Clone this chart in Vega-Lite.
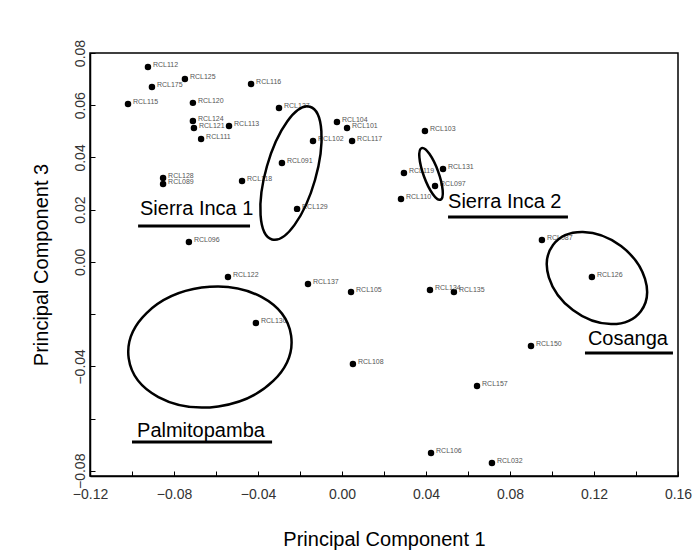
{
  "$schema": "https://vega.github.io/schema/vega-lite/v6.json",
  "width": 588,
  "height": 423,
  "autosize": {"type": "none"},
  "padding": {"left": 90, "top": 53, "right": 15, "bottom": 80},
  "background": "white",
  "config": {
    "font": "Liberation Sans",
    "view": {"stroke": "black", "strokeWidth": 1.5},
    "axis": {
      "grid": false,
      "domainColor": "black",
      "domainWidth": 1.5,
      "tickColor": "black",
      "tickWidth": 1,
      "labelFont": "Liberation Sans",
      "labelFontSize": 14,
      "labelColor": "#333333",
      "titleFont": "Liberation Sans",
      "titleFontSize": 20,
      "titleFontWeight": "normal",
      "titleColor": "black"
    }
  },
  "datasets": {
    "pts": [
      {"id": "RCL112", "pc1": -0.0924, "pc3": 0.0746},
      {"id": "RCL175", "pc1": -0.0905, "pc3": 0.0670},
      {"id": "RCL125", "pc1": -0.0748, "pc3": 0.0700},
      {"id": "RCL115", "pc1": -0.1019, "pc3": 0.0605},
      {"id": "RCL120", "pc1": -0.0710, "pc3": 0.0609},
      {"id": "RCL124", "pc1": -0.0710, "pc3": 0.0540},
      {"id": "RCL121", "pc1": -0.0705, "pc3": 0.0513},
      {"id": "RCL113", "pc1": -0.0538, "pc3": 0.0520},
      {"id": "RCL111", "pc1": -0.0671, "pc3": 0.0471},
      {"id": "RCL116", "pc1": -0.0433, "pc3": 0.0681},
      {"id": "RCL127", "pc1": -0.0300, "pc3": 0.0589},
      {"id": "RCL104", "pc1": -0.0024, "pc3": 0.0536},
      {"id": "RCL101", "pc1": 0.0024, "pc3": 0.0513},
      {"id": "RCL102", "pc1": -0.0138, "pc3": 0.0463},
      {"id": "RCL117", "pc1": 0.0048, "pc3": 0.0463},
      {"id": "RCL091", "pc1": -0.0286, "pc3": 0.0379},
      {"id": "RCL118", "pc1": -0.0476, "pc3": 0.0310},
      {"id": "RCL129", "pc1": -0.0214, "pc3": 0.0203},
      {"id": "RCL128", "pc1": -0.0852, "pc3": 0.0321},
      {"id": "RCL089", "pc1": -0.0852, "pc3": 0.0298},
      {"id": "RCL096", "pc1": -0.0729, "pc3": 0.0076},
      {"id": "RCL122", "pc1": -0.0543, "pc3": -0.0058},
      {"id": "RCL137", "pc1": -0.0162, "pc3": -0.0085},
      {"id": "RCL105", "pc1": 0.0043, "pc3": -0.0115},
      {"id": "RCL130", "pc1": -0.0410, "pc3": -0.0234},
      {"id": "RCL108", "pc1": 0.0052, "pc3": -0.0391},
      {"id": "RCL134", "pc1": 0.0419, "pc3": -0.0108},
      {"id": "RCL135", "pc1": 0.0533, "pc3": -0.0115},
      {"id": "RCL103", "pc1": 0.0395, "pc3": 0.0501},
      {"id": "RCL119", "pc1": 0.0295, "pc3": 0.0340},
      {"id": "RCL131", "pc1": 0.0481, "pc3": 0.0356},
      {"id": "RCL097", "pc1": 0.0443, "pc3": 0.0291},
      {"id": "RCL110", "pc1": 0.0281, "pc3": 0.0241},
      {"id": "RCL087", "pc1": 0.0952, "pc3": 0.0084},
      {"id": "RCL126", "pc1": 0.1190, "pc3": -0.0058},
      {"id": "RCL150", "pc1": 0.0900, "pc3": -0.0322},
      {"id": "RCL157", "pc1": 0.0643, "pc3": -0.0475},
      {"id": "RCL106", "pc1": 0.0424, "pc3": -0.0732},
      {"id": "RCL032", "pc1": 0.0714, "pc3": -0.0770}
    ],
    "groups": [
      {"group": "Sierra Inca 1", "cx": -0.0243, "cy": 0.0340, "tx": -0.0962, "ty": 0.0180, "u1": -0.0971, "u2": -0.0438, "uy": 0.0137},
      {"group": "Sierra Inca 2", "cx": 0.0424, "cy": 0.0337, "tx": 0.0505, "ty": 0.0206, "u1": 0.0505, "u2": 0.1076, "uy": 0.0172},
      {"group": "Cosanga", "cx": 0.1214, "cy": -0.0062, "tx": 0.1171, "ty": -0.0318, "u1": 0.1157, "u2": 0.1576, "uy": -0.0349},
      {"group": "Palmitopamba", "cx": -0.0629, "cy": -0.0326, "tx": -0.0976, "ty": -0.0671, "u1": -0.1000, "u2": -0.0333, "uy": -0.0690}
    ]
  },
  "layer": [
    {
      "data": {"name": "pts"},
      "mark": {"type": "point", "shape": "circle", "filled": true, "color": "black", "size": 42, "opacity": 1},
      "encoding": {
        "x": {
          "field": "pc1", "type": "quantitative",
          "scale": {"domain": [-0.12, 0.16], "nice": false, "zero": false},
          "axis": {
            "title": "Principal Component 1",
            "values": [-0.12, -0.10, -0.08, -0.06, -0.04, -0.02, 0, 0.02, 0.04, 0.06, 0.08, 0.10, 0.12, 0.14, 0.16],
            "format": ".2f",
            "labelExpr": "round(datum.value*100) % 4 == 0 ? datum.label : ''",
            "tickSize": -5,
            "labelPadding": 16,
            "titlePadding": 28,
            "labelFlush": false
          }
        },
        "y": {
          "field": "pc3", "type": "quantitative",
          "scale": {"domain": [-0.082, 0.08], "nice": false, "zero": false},
          "axis": {
            "title": "Principal Component 3",
            "values": [-0.08, -0.06, -0.04, -0.02, 0, 0.02, 0.04, 0.06, 0.08],
            "format": ".2f",
            "labelExpr": "(round(datum.value*100) == -2 || round(datum.value*100) == -6) ? '' : datum.label",
            "labelAngle": -90,
            "labelAlign": "center",
            "labelBaseline": "bottom",
            "tickSize": -5,
            "labelPadding": 8,
            "titlePadding": 22,
            "labelFlush": false
          }
        }
      }
    },
    {
      "data": {"name": "pts"},
      "mark": {"type": "text", "align": "left", "baseline": "middle", "dx": 5, "dy": -2, "fontSize": 7, "color": "#555555"},
      "encoding": {
        "x": {"field": "pc1", "type": "quantitative"},
        "y": {"field": "pc3", "type": "quantitative"},
        "text": {"field": "id"}
      }
    },
    {
      "data": {"name": "groups"},
      "mark": {"type": "point", "filled": false, "stroke": "black", "strokeWidth": 2.5, "size": 4, "opacity": 1},
      "encoding": {
        "x": {"field": "cx", "type": "quantitative"},
        "y": {"field": "cy", "type": "quantitative"},
        "shape": {
          "field": "group", "type": "nominal", "legend": null,
          "scale": {
            "domain": ["Sierra Inca 1", "Sierra Inca 2", "Cosanga", "Palmitopamba"],
            "range": [
              "M-18.95,66.36C-32.23,62.57,-34.51,29.78,-24.04,-6.87C-13.57,-43.52,5.67,-70.15,18.95,-66.36C32.23,-62.57,34.51,-29.78,24.04,6.87C13.57,43.52,-5.67,70.15,-18.95,66.36Z",
              "M9.43,25.82C5.54,27.24,-1.83,16.83,-7.04,2.57C-12.25,-11.69,-13.32,-24.4,-9.43,-25.82C-5.54,-27.24,1.83,-16.83,7.04,-2.57C12.25,11.69,13.32,24.4,9.43,25.82Z",
              "M43.93,33.1C30.64,50.75,0.19,50.24,-24.07,31.96C-48.33,13.68,-57.22,-15.45,-43.93,-33.1C-30.64,-50.75,-0.19,-50.24,24.07,-31.96C48.33,-13.68,57.22,15.45,43.93,33.1Z",
              "M81.2,-11.4C85.81,21.41,53.19,53.1,8.34,59.4C-36.51,65.7,-76.59,44.21,-81.2,11.4C-85.81,-21.41,-53.19,-53.1,-8.34,-59.4C36.51,-65.7,76.59,-44.21,81.2,-11.4Z"
            ]
          }
        }
      }
    },
    {
      "data": {"name": "groups"},
      "mark": {"type": "text", "align": "left", "baseline": "alphabetic", "fontSize": 20, "color": "black", "font": "Liberation Sans"},
      "encoding": {
        "x": {"field": "tx", "type": "quantitative"},
        "y": {"field": "ty", "type": "quantitative"},
        "text": {"field": "group"}
      }
    },
    {
      "data": {"name": "groups"},
      "mark": {"type": "rule", "color": "black", "strokeWidth": 3},
      "encoding": {
        "x": {"field": "u1", "type": "quantitative"},
        "x2": {"field": "u2"},
        "y": {"field": "uy", "type": "quantitative"}
      }
    }
  ]
}
